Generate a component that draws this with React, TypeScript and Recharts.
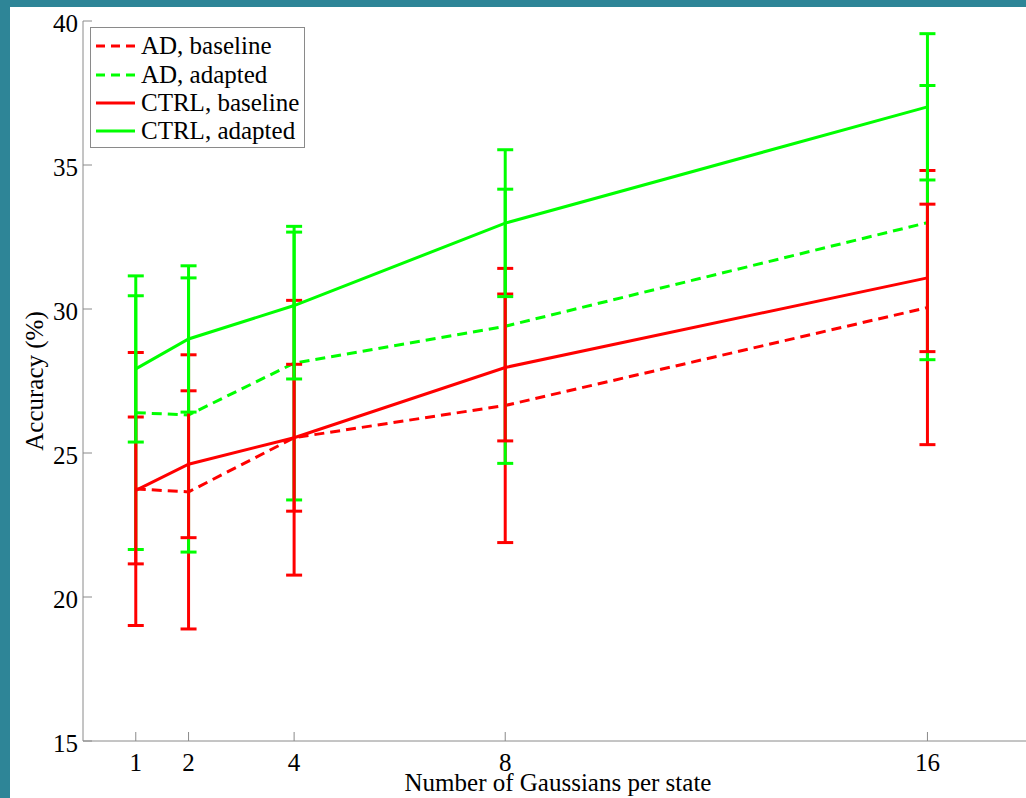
import React from 'react';
import { LineChart, Line, XAxis, YAxis, ErrorBar, Legend } from 'recharts';

const gaussians = [1, 2, 4, 8, 16];
const adBaseline = [23.75, 23.65, 25.53, 26.65, 30.05];
const adBaselineErr = [4.74, 4.76, 4.77, 4.76, 4.76];
const adAdapted = [26.4, 26.32, 28.12, 29.4, 33.0];
const adAdaptedErr = [4.75, 4.76, 4.75, 4.76, 4.76];
const ctrlBaseline = [23.7, 24.61, 25.53, 27.97, 31.08];
const ctrlBaselineErr = [2.55, 2.55, 2.55, 2.55, 2.56];
const ctrlAdapted = [27.92, 28.96, 30.12, 32.98, 37.02];
const ctrlAdaptedErr = [2.54, 2.54, 2.55, 2.55, 2.54];

const xTicks = [1, 2, 4, 8, 16];
const yTicks = [15, 20, 25, 30, 35, 40];

const seriesNames = ['AD, baseline', 'AD, adapted', 'CTRL, baseline', 'CTRL, adapted'];
const seriesKeys = ['adB', 'adA', 'ctB', 'ctA'];
const seriesColors = ['#ff0000', '#00ff00', '#ff0000', '#00ff00'];
const seriesDash = ['10 6', '10 6', undefined, undefined];

const data = gaussians.map((g, i) => ({
  x: g,
  adB: adBaseline[i],
  adBErr: adBaselineErr[i],
  adA: adAdapted[i],
  adAErr: adAdaptedErr[i],
  ctB: ctrlBaseline[i],
  ctBErr: ctrlBaselineErr[i],
  ctA: ctrlAdapted[i],
  ctAErr: ctrlAdaptedErr[i],
}));

const FONT = "'Liberation Serif', 'Times New Roman', serif";
const AXIS = '#8a8a8a';

const LegendBox = () => (
  <div
    style={{
      border: `1px solid ${AXIS}`,
      background: '#fff',
      width: 215,
      height: 121,
      boxSizing: 'border-box',
      paddingTop: 4,
      fontFamily: FONT,
      fontSize: 25,
      color: '#000',
    }}
  >
    {seriesNames.map((n, i) => (
      <div key={n} style={{ display: 'flex', alignItems: 'center', height: 28.4, whiteSpace: 'nowrap' }}>
        <svg width={50} height={10} style={{ flex: 'none' }}>
          <line
            x1={5}
            y1={5}
            x2={44}
            y2={5}
            stroke={seriesColors[i]}
            strokeWidth={3}
            strokeDasharray={seriesDash[i] ? '9 6' : undefined}
          />
        </svg>
        <span style={{ lineHeight: '28px' }}>{n}</span>
      </div>
    ))}
  </div>
);

export default function App() {
  return (
    <div
      style={{
        position: 'absolute',
        left: 0,
        top: 0,
        width: 1026,
        height: 798,
        overflow: 'hidden',
        background: '#2e8597',
      }}
    >
      <div style={{ position: 'absolute', left: 10, top: 7, right: 0, bottom: 0, background: '#fff' }} />
      <div style={{ position: 'absolute', left: 0, top: 0 }}>
        <LineChart
          width={1050}
          height={798}
          data={data}
          margin={{ top: 21, right: 17, bottom: 0, left: 0 }}
          style={{ fontFamily: FONT }}
        >
          <XAxis
            dataKey="x"
            type="number"
            domain={[0, 18]}
            ticks={xTicks}
            allowDataOverflow
            height={57}
            stroke={AXIS}
            tickSize={-9}
            tickMargin={21}
            tick={{ fill: '#000', fontSize: 25, fontFamily: FONT }}
            label={{ value: 'Number of Gaussians per state', position: 'insideBottom', offset: 7, fill: '#000', fontSize: 25, fontFamily: FONT }}
          />
          <XAxis
            xAxisId="top"
            orientation="top"
            dataKey="x"
            type="number"
            domain={[0, 18]}
            ticks={xTicks}
            height={0}
            stroke={AXIS}
            tickSize={-9}
            tick={false}
          />
          <YAxis
            type="number"
            domain={[15, 40]}
            ticks={yTicks}
            width={83}
            stroke={AXIS}
            tickSize={-9}
            tickMargin={14}
            tick={{ fill: '#000', fontSize: 25, fontFamily: FONT, dy: 2 }}
            label={{ value: 'Accuracy (%)', angle: -90, position: 'center', dx: -7.5, fill: '#000', fontSize: 25, fontFamily: FONT }}
          />
          <YAxis
            yAxisId="right"
            orientation="right"
            type="number"
            domain={[15, 40]}
            ticks={yTicks}
            width={0}
            stroke={AXIS}
            tickSize={-9}
            tick={false}
          />
          <Legend
            layout="vertical"
            align="center"
            verticalAlign="middle"
            content={() => <LegendBox />}
            wrapperStyle={{ left: 90, top: 27, width: 'auto', height: 'auto' }}
          />
          {seriesKeys.map((k, i) => (
            <Line
              key={k}
              dataKey={k}
              name={seriesNames[i]}
              type="linear"
              stroke={seriesColors[i]}
              strokeWidth={3}
              strokeDasharray={seriesDash[i]}
              dot={false}
              activeDot={false}
              isAnimationActive={false}
            >
              <ErrorBar
                dataKey={`${k}Err`}
                direction="y"
                width={8}
                stroke={seriesColors[i]}
                strokeWidth={3}
                isAnimationActive={false}
              />
            </Line>
          ))}
        </LineChart>
      </div>
    </div>
  );
}
